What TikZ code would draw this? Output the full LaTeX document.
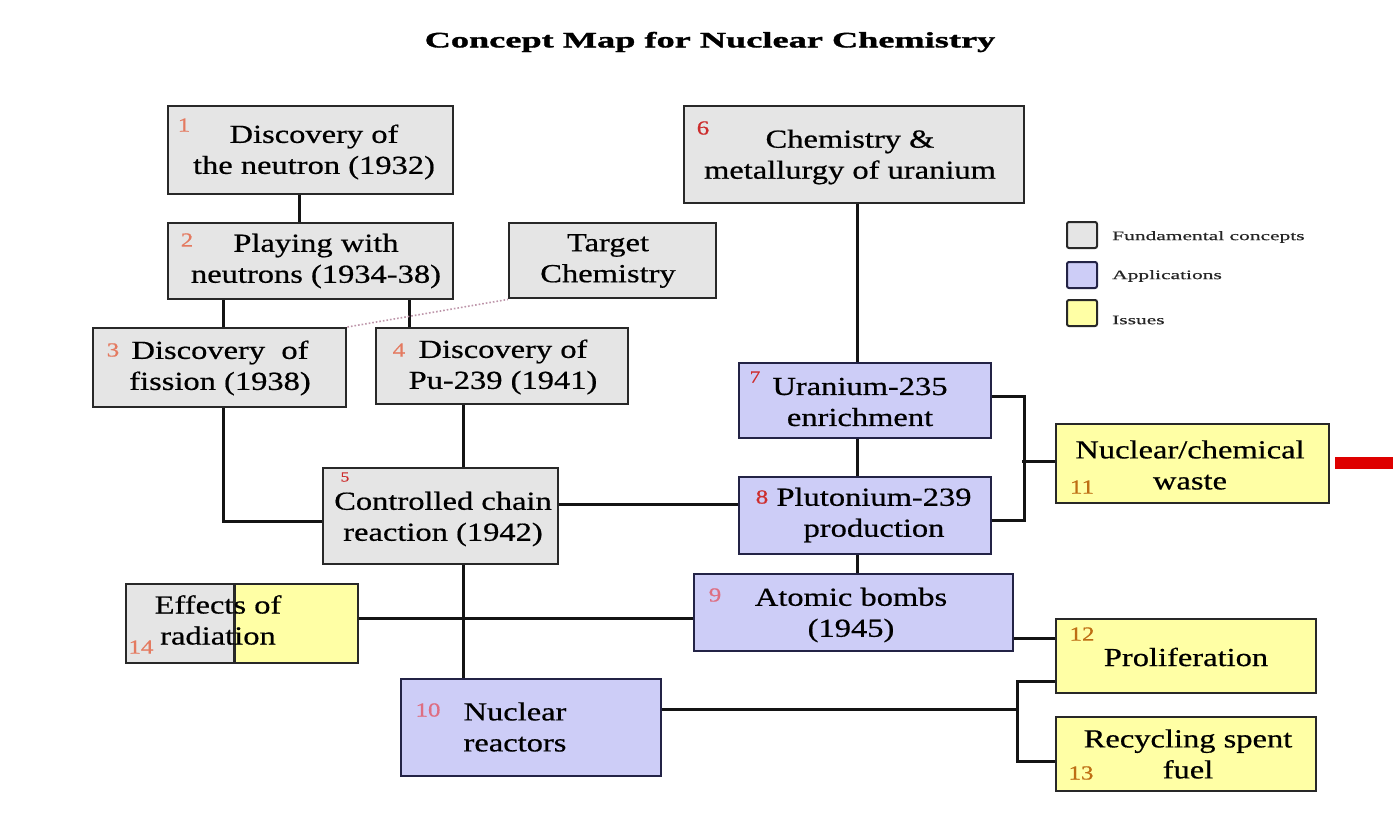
\documentclass[tikz,border=0pt]{standalone}
\usepackage{fontspec}
\setmainfont[FakeStretch=1.25,FakeBold=0.6]{Liberation Serif}
\newfontfamily\titlefont[FakeStretch=1.65,FakeBold=1.5]{Liberation Serif}
\newfontfamily\legfont[FakeStretch=1.65,FakeBold=0.5]{Liberation Serif}
\usetikzlibrary{calc}
\definecolor{gfill}{RGB}{229,229,229}
\definecolor{bfill}{RGB}{205,205,247}
\definecolor{yfill}{RGB}{255,255,165}
\definecolor{gline}{RGB}{40,40,40}
\definecolor{bline}{RGB}{35,35,70}
\definecolor{salmon}{RGB}{228,122,96}
\definecolor{numred}{RGB}{205,45,45}
\definecolor{numpink}{RGB}{222,110,130}
\definecolor{numorange}{RGB}{190,110,20}
\definecolor{dotcol}{RGB}{190,150,170}
\definecolor{barred}{RGB}{222,0,0}
\tikzset{
  gbox/.style={draw=gline, line width=2.4pt, fill=gfill, inner sep=0, anchor=north west},
  bbox/.style={draw=bline, line width=2.4pt, fill=bfill, inner sep=0, anchor=north west},
  ybox/.style={draw=gline, line width=2.4pt, fill=yfill, inner sep=0, anchor=north west},
  txt/.style={font=\fontsize{26}{31}\selectfont, align=center, inner sep=0, text=black},
  num/.style={font=\fontsize{20}{20}\selectfont, inner sep=0},
  conn/.style={line width=3.2pt, draw=black!92},
  legbox/.style={draw=gline, line width=2pt, rounded corners=2pt, minimum width=30pt, minimum height=26pt, inner sep=0},
  legtxt/.style={font=\legfont\fontsize{13}{13}\selectfont, anchor=west, inner sep=0, text=black!85},
}
\begin{document}
\begin{tikzpicture}[x=1pt,y=-1pt]
\useasboundingbox[fill=white] (0,0) rectangle (1393,832);

% title
\node[font=\titlefont\bfseries\fontsize{22}{22}\selectfont, inner sep=0] (title) at (710,42) {Concept Map for Nuclear Chemistry};

% boxes
\node[gbox, minimum width=285pt, minimum height=88pt] (n1) at (167,105) {};
\node[gbox, minimum width=285pt, minimum height=76pt] (n2) at (167,222) {};
\node[gbox, minimum width=207pt, minimum height=75pt] (tc) at (508,222) {};
\node[gbox, minimum width=253pt, minimum height=79pt] (n3) at (92,327) {};
\node[gbox, minimum width=252pt, minimum height=76pt] (n4) at (375,327) {};
\node[gbox, minimum width=340pt, minimum height=97pt] (n6) at (683,105) {};
\node[gbox, minimum width=235pt, minimum height=96pt] (n5) at (322,467) {};
\node[bbox, minimum width=252pt, minimum height=75pt] (n7) at (738,362) {};
\node[bbox, minimum width=252pt, minimum height=77pt] (n8) at (738,476) {};
\node[bbox, minimum width=319pt, minimum height=77pt] (n9) at (693,573) {};
\node[bbox, minimum width=260pt, minimum height=97pt] (n10) at (400,678) {};
\node[ybox, minimum width=273pt, minimum height=79pt] (n11) at (1055,423) {};
\node[ybox, minimum width=260pt, minimum height=74pt] (n12) at (1055,618) {};
\node[ybox, minimum width=260pt, minimum height=74pt] (n13) at (1055,716) {};
\node[ybox, minimum width=232pt, minimum height=79pt,
  path picture={\fill[gfill] (path picture bounding box.north west) rectangle ([xshift=108pt]path picture bounding box.south west);
  \draw[line width=2.6pt, gline] ([xshift=108pt]path picture bounding box.north west) -- ([xshift=108pt]path picture bounding box.south west);}] (n14) at (125,583) {};

% connectors
\draw[conn] ([xshift=-11.5pt]n1.south) -- ([xshift=-11.5pt]n2.north);
\draw[conn] ([xshift=-87.5pt]n2.south) -- ([xshift=3.5pt]n3.north);
\draw[conn] ([xshift=98.5pt]n2.south) -- ([xshift=-93pt]n4.north);
\draw[line width=1.6pt, dotcol, dotted] (n3.north east) -- (tc.south west);
\draw[conn] ([xshift=3.5pt]n3.south) |- ([yshift=-5pt]n5.west);
\draw[conn] ([xshift=-39pt]n4.south) -- ([xshift=22.5pt]n5.north);
\draw[conn] ([yshift=12pt]n5.east) -- ([yshift=12pt]n5.east -| n8.west);
\draw[conn] ([xshift=3pt]n6.south) -- ([xshift=3pt]n6.south |- n7.north);
\draw[conn] ([xshift=-8pt]n7.south) -- ([xshift=-8pt]n8.north);
\draw[conn] ([xshift=-8pt]n8.south) -- ([xshift=3.5pt]n9.north);
\draw[conn] ([yshift=4.5pt]n7.east) -- ++(32,0) |- ([yshift=-4.5pt]n8.east);
\draw[conn] ([yshift=2.5pt]n11.west) -- ++(-33,0);
\draw[conn] ([xshift=22.5pt]n5.south) -- ([xshift=-68pt]n10.north);
\draw[conn] ([yshift=5.5pt]n14.east) -- ([yshift=5.5pt]n14.east -| n9.west);
\draw[conn] ([yshift=-25.5pt]n9.east) -- ([yshift=-25.5pt]n9.east -| n12.west);
\draw[conn] ([yshift=18.5pt]n10.east) -- ++(355,0) coordinate (fork);
\draw[conn] ([yshift=-25pt]n12.west) -| (fork) |- ([yshift=-7pt]n13.west);
\coordinate (redend) at (1393,469);
\fill[barred] ([xshift=5pt,yshift=6.5pt]n11.east) rectangle (redend);

% box texts
\node[txt] (t1) at (314,152) {Discovery of\\the neutron (1932)};
\node[txt] (t2) at (316,261) {Playing with\\neutrons (1934-38)};
\node[txt] (ttc) at (608,261) {Target\\Chemistry};
\node[txt] (t3) at (220,368) {Discovery\ \ of\\fission (1938)};
\node[txt] (t4) at (503,367) {Discovery of\\Pu-239 (1941)};
\node[txt] (t6) at (850,157) {Chemistry \&\\metallurgy of uranium};
\node[txt] (t5) at (443,519) {Controlled chain\\reaction (1942)};
\node[txt] (t7) at (860,402) {Uranium-235\\enrichment};
\node[txt] (t8) at (874,515) {Plutonium-239\\production};
\node[txt] (t9) at (851,615) {Atomic bombs\\(1945)};
\node[txt] (t10) at (515,727) {Nuclear\\reactors};
\node[txt] (t11) at (1190,465) {Nuclear/chemical\\waste};
\node[txt] (t12) at (1186,657) {Proliferation};
\node[txt] (t13) at (1188,754) {Recycling spent\\fuel};
\node[txt] (t14) at (218,620) {Effects of\\radiation};

% numbers
\node[num, text=salmon] (k1) at (184,125) {1};
\node[num, text=salmon] (k2) at (187,240) {2};
\node[num, text=salmon] (k3) at (113,350) {3};
\node[num, text=salmon] (k4) at (399,350) {4};
\node[num, text=numred, font=\fontsize{14}{14}\selectfont] (k5) at (345,477) {5};
\node[num, text=numred] (k6) at (703,128) {6};
\node[num, text=numred, font=\fontsize{17}{17}\selectfont] (k7) at (755,377) {7};
\node[num, text=numred] (k8) at (762,497) {8};
\node[num, text=numpink] (k9) at (715,595) {9};
\node[num, text=numpink] (k10) at (428,710) {10};
\node[num, text=numorange] (k11) at (1082,487) {11};
\node[num, text=numorange] (k12) at (1082,634) {12};
\node[num, text=numorange] (k13) at (1081,773) {13};
\node[num, text=salmon] (k14) at (141,647) {14};

% legend
\node[legbox, fill=gfill] (lg) at (1082,235) {};
\node[legbox, fill=bfill, draw=bline] (lb) at (1082,275) {};
\node[legbox, fill=yfill] (ly) at (1082,313) {};
\node[legtxt] (lgt) at (1112,237) {Fundamental concepts};
\node[legtxt] (lbt) at (1112,276) {Applications};
\node[legtxt] (lyt) at (1112,320) {Issues};
\end{tikzpicture}
\end{document}
